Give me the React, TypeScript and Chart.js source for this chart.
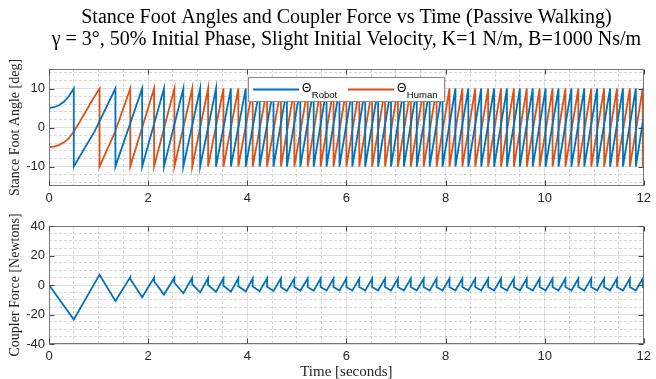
import React, { useEffect, useRef } from "react";
import { Chart, registerables } from "chart.js";

Chart.register(...registerables);

// ---------- text ----------
const TITLE_LINES = [
  "Stance Foot Angles and Coupler Force vs Time (Passive Walking)",
  "γ = 3°, 50% Initial Phase, Slight Initial Velocity, K=1 N/m, B=1000 Ns/m",
];
const ANGLE_LABEL = "Stance Foot Angle [deg]";
const FORCE_LABEL = "Coupler Force [Newtons]";
const TIME_LABEL = "Time [seconds]";
const LEGEND_SUBS = ["Robot", "Human"];

// ---------- ticks ----------
const X_MAJOR = [0, 2, 4, 6, 8, 10, 12];
const ANGLE_MAJOR = [-10, 0, 10];
const FORCE_MAJOR = [-40, -20, 0, 20, 40];

// ---------- data ----------
// initial (pre-impact) curves
const robotInitT = [0, 0.1, 0.2, 0.3, 0.4];
const robotInitV = [5, 5.2, 5.7, 6.6, 8.0];
const humanInitT = [0, 0.1, 0.2, 0.3, 0.4, 0.5, 0.6, 0.7, 0.8, 0.9];
const humanInitV = [-5, -4.9, -4.5, -3.8, -2.8, -1.0, 1.0, 3.2, 5.4, 7.6];

// impact (heel-strike) times: angle goes +10 -> -10
const robotImpacts = [
  0.5, 1.34, 1.88, 2.32, 2.71, 3.05, 3.37, 3.67, 3.97, 4.25, 4.53, 4.8, 5.07,
  5.34, 5.6, 5.86, 6.12, 6.38, 6.64, 6.9, 7.16, 7.42, 7.68, 7.94, 8.2, 8.46,
  8.72, 8.98, 9.24, 9.5, 9.76, 10.02, 10.28, 10.54, 10.8, 11.06, 11.32, 11.58,
  11.84,
];
const humanImpacts = [
  1.02, 1.64, 2.12, 2.53, 2.89, 3.21, 3.52, 3.82, 4.11, 4.4, 4.68, 4.95, 5.22,
  5.48, 5.74, 6.0, 6.26, 6.52, 6.78, 7.04, 7.3, 7.56, 7.82, 8.08, 8.34, 8.6,
  8.86, 9.12, 9.38, 9.64, 9.9, 10.16, 10.42, 10.68, 10.94, 11.2, 11.46, 11.72,
  11.98,
];
const IMPACT_HIGH = 10;
const IMPACT_LOW = -10;
// slight bends in the first rising strokes
const robotBendT = [0.92];
const robotBendV = [-1.0];
const humanBendT = [1.33];
const humanBendV = [-1.2];
const robotEndV = 3.0;
const humanEndV = -8.5;

// coupler force: minimum at each robot impact, peak at each human impact,
// value right after the peak drop
const forceStartV = 0;
const forceMin = [
  -23.4, -10.8, -8.3, -6.5, -5.6, -5.0, -4.7, -4.5, -4.3, -4.2, -4.1, -4.0,
  -3.9, -3.9, -3.8, -3.8, -3.8, -3.8, -3.7, -3.7, -3.7, -3.7, -3.7, -3.7, -3.7,
  -3.7, -3.7, -3.7, -3.7, -3.7, -3.7, -3.7, -3.7, -3.7, -3.7, -3.7, -3.7, -3.7,
  -3.7,
];
const forcePeak = [
  7.0, 5.4, 5.0, 4.9, 4.9, 4.7, 4.6, 4.6, 4.5, 4.5, 4.5, 4.4, 4.4, 4.4, 4.4,
  4.4, 4.4, 4.4, 4.4, 4.4, 4.4, 4.4, 4.4, 4.4, 4.4, 4.4, 4.4, 4.4, 4.4, 4.4,
  4.4, 4.4, 4.4, 4.4, 4.4, 4.4, 4.4, 4.4, 4.4,
];
const forceAfterPeak = [
  7.0, 4.0, 2.5, 1.5, 0.5, 0.0, -0.5, -0.8, -1.0, -1.2, -1.3, -1.4, -1.4, -1.4,
  -1.4, -1.4, -1.4, -1.4, -1.4, -1.4, -1.4, -1.4, -1.4, -1.4, -1.4, -1.4, -1.4,
  -1.4, -1.4, -1.4, -1.4, -1.4, -1.4, -1.4, -1.4, -1.4, -1.4, -1.4, -1.4,
];
const forceEndV = -1.6;

// ---------- build tables ----------
type P = { x: number; y: number };

function sawtooth(
  initT: number[],
  initV: number[],
  impacts: number[],
  bendT: number[],
  bendV: number[],
  endV: number
): P[] {
  const pts: P[] = initT.map((t, i) => ({ x: t, y: initV[i] }));
  let prev = -Infinity;
  impacts.forEach((t) => {
    bendT.forEach((bt, j) => {
      if (bt > prev && bt < t) pts.push({ x: bt, y: bendV[j] });
    });
    pts.push({ x: t, y: IMPACT_HIGH });
    pts.push({ x: t, y: IMPACT_LOW });
    prev = t;
  });
  pts.push({ x: 12, y: endV });
  return pts;
}

const robotPoints = sawtooth(robotInitT, robotInitV, robotImpacts, robotBendT, robotBendV, robotEndV);
const humanPoints = sawtooth(humanInitT, humanInitV, humanImpacts, humanBendT, humanBendV, humanEndV);

const forcePoints: P[] = [{ x: 0, y: forceStartV }];
robotImpacts.forEach((t, i) => {
  forcePoints.push({ x: t, y: forceMin[i] });
  forcePoints.push({ x: humanImpacts[i], y: forcePeak[i] });
  if (forceAfterPeak[i] !== forcePeak[i]) forcePoints.push({ x: humanImpacts[i], y: forceAfterPeak[i] });
});
forcePoints.push({ x: 12, y: forceEndV });

// ---------- styling helpers ----------
const BLUE = "#0072BD";
const ORANGE = "#D95319";
const TICK_COLOR = "#262626";
const GRID_COLOR = "rgba(38,38,38,0.15)";
const MINOR_COLOR = "rgba(38,38,38,0.18)";
const SERIF = "'Liberation Serif', 'DejaVu Serif', serif";
const SANS = "'Liberation Sans', Arial, sans-serif";

function gridValues(min: number, max: number, step: number) {
  const out: number[] = [];
  for (let v = min; v <= max + 1e-9; v += step) out.push(Math.round(v * 1000) / 1000);
  return out;
}

function makeAxis(opts: {
  min: number;
  max: number;
  grid: number[];
  major: number[];
  title?: string;
  titleSize?: number;
  isX: boolean;
  fitSize: number;
  titlePad?: any;
}) {
  const isMaj = (v: number) => opts.major.some((m) => Math.abs(m - v) < 1e-6);
  return {
    type: "linear",
    min: opts.min,
    max: opts.max,
    afterBuildTicks: (scale: any) => {
      scale.ticks = opts.grid.map((v) => ({ value: v }));
    },
    afterFit: (scale: any) => {
      if (opts.isX) scale.height = opts.fitSize;
      else scale.width = opts.fitSize;
    },
    ticks: {
      autoSkip: false,
      maxRotation: 0,
      minRotation: 0,
      padding: opts.isX ? 5 : 4,
      color: TICK_COLOR,
      font: { family: SANS, size: 13 },
      callback: (v: any) => (isMaj(Number(v)) ? String(v) : ""),
    },
    grid: {
      drawTicks: false,
      lineWidth: 1,
      color: (ctx: any) => (ctx.tick && isMaj(ctx.tick.value) ? GRID_COLOR : MINOR_COLOR),
    },
    border: {
      display: false,
      dash: (ctx: any) => (ctx.tick && !isMaj(ctx.tick.value) ? [3, 2] : []),
    },
    title: opts.title
      ? {
          display: true,
          text: opts.title,
          color: TICK_COLOR,
          font: { family: SERIF, size: opts.titleSize || 14 },
          padding: opts.titlePad || { top: 0, bottom: 0 },
        }
      : { display: false },
  };
}

// title centred over the axes (as MATLAB does)
const axesTitlePlugin = {
  id: "axesTitle",
  afterDraw(chart: any, _args: any, opts: any) {
    const { ctx, chartArea: a } = chart;
    ctx.save();
    ctx.fillStyle = "#000000";
    ctx.font = `20px ${SERIF}`;
    ctx.textAlign = "center";
    ctx.textBaseline = "middle";
    const cx = (a.left + a.right) / 2;
    opts.lines.forEach((line: string, i: number) => {
      ctx.fillText(line, cx, 18 + i * 22);
    });
    ctx.restore();
  },
};

const boxPlugin = {
  id: "matlabBox",
  afterDraw(chart: any, _args: any, opts: any) {
    const { ctx, chartArea: a, scales } = chart;
    ctx.save();
    ctx.strokeStyle = "#777777";
    ctx.lineWidth = 1;
    const L = Math.round(a.left) + 0.5;
    const R = Math.round(a.right) - 0.5;
    const T = Math.round(a.top) + 0.5;
    const B = Math.round(a.bottom) - 0.5;
    ctx.strokeRect(L, T, R - L, B - T);
    ctx.strokeStyle = "#444444";
    ctx.beginPath();
    for (const v of opts.xMajor) {
      const px = Math.round(scales.x.getPixelForValue(v)) + 0.5;
      ctx.moveTo(px, B);
      ctx.lineTo(px, B - 5);
      ctx.moveTo(px, T);
      ctx.lineTo(px, T + 5);
    }
    for (const v of opts.yMajor) {
      const py = Math.round(scales.y.getPixelForValue(v)) + 0.5;
      ctx.moveTo(L, py);
      ctx.lineTo(L + 5, py);
      ctx.moveTo(R, py);
      ctx.lineTo(R - 5, py);
    }
    ctx.stroke();
    ctx.restore();
  },
};

const legendPlugin = {
  id: "thetaLegend",
  afterDatasetsDraw(chart: any) {
    const { ctx, chartArea: a } = chart;
    const w = 196;
    const h = 24;
    const x0 = Math.round((a.left + a.right) / 2 - w / 2) + 0.5;
    const y0 = Math.round(a.top + 8) + 0.5;
    ctx.save();
    ctx.fillStyle = "#ffffff";
    ctx.fillRect(x0, y0, w, h);
    ctx.strokeStyle = "#8a8a8a";
    ctx.lineWidth = 1;
    ctx.strokeRect(x0, y0, w, h);
    chart.data.datasets.forEach((ds: any, i: number) => {
      const lx = x0 + 4.5 + i * 95;
      ctx.strokeStyle = ds.borderColor;
      ctx.lineWidth = 1.8;
      ctx.beginPath();
      ctx.moveTo(lx, y0 + 12);
      ctx.lineTo(lx + 46, y0 + 12);
      ctx.stroke();
      ctx.fillStyle = "#000000";
      ctx.textAlign = "left";
      ctx.textBaseline = "alphabetic";
      ctx.font = `12px ${SANS}`;
      ctx.fillText("Θ", lx + 49, y0 + 14);
      const tw = ctx.measureText("Θ").width;
      ctx.font = `9.5px ${SANS}`;
      ctx.fillText(LEGEND_SUBS[i], lx + 49 + tw + 0.5, y0 + 20.5);
    });
    ctx.restore();
  },
};

export default function App() {
  const topRef = useRef<HTMLCanvasElement>(null);
  const botRef = useRef<HTMLCanvasElement>(null);

  useEffect(() => {
    const xGrid = gridValues(0, 12, 0.5);
    const top = new Chart(topRef.current as HTMLCanvasElement, {
      type: "line",
      data: {
        datasets: [
          {
            label: "ΘRobot",
            data: robotPoints,
            borderColor: BLUE,
            backgroundColor: BLUE,
            borderWidth: 1.8,
            pointRadius: 0,
            tension: 0,
          },
          {
            label: "ΘHuman",
            data: humanPoints,
            borderColor: ORANGE,
            backgroundColor: ORANGE,
            borderWidth: 1.8,
            pointRadius: 0,
            tension: 0,
          },
        ],
      } as any,
      options: {
        responsive: false,
        animation: false,
        events: [],
        layout: { padding: { left: 0, right: 8, top: 69, bottom: 0 } },
        plugins: {
          legend: { display: false },
          tooltip: { enabled: false },
          title: { display: false },
          axesTitle: { lines: TITLE_LINES },
          matlabBox: { xMajor: X_MAJOR, yMajor: ANGLE_MAJOR },
        } as any,
        scales: {
          x: makeAxis({ min: 0, max: 12, grid: xGrid, major: X_MAJOR, isX: true, fitSize: 24 }) as any,
          y: makeAxis({
            min: -15,
            max: 15,
            grid: gridValues(-14, 14, 2),
            major: ANGLE_MAJOR,
            title: ANGLE_LABEL,
            isX: false,
            fitSize: 49,
            titlePad: { top: 7, bottom: 0 },
          }) as any,
        },
      },
      plugins: [boxPlugin, legendPlugin, axesTitlePlugin],
    });

    const bot = new Chart(botRef.current as HTMLCanvasElement, {
      type: "line",
      data: {
        datasets: [
          {
            label: "Coupler Force",
            data: forcePoints,
            borderColor: BLUE,
            backgroundColor: BLUE,
            borderWidth: 1.8,
            pointRadius: 0,
            tension: 0,
          },
        ],
      } as any,
      options: {
        responsive: false,
        animation: false,
        events: [],
        layout: { padding: { left: 0, right: 8, top: 16, bottom: 0 } },
        plugins: {
          legend: { display: false },
          tooltip: { enabled: false },
          matlabBox: { xMajor: X_MAJOR, yMajor: FORCE_MAJOR },
        } as any,
        scales: {
          x: makeAxis({
            min: 0,
            max: 12,
            grid: xGrid,
            major: X_MAJOR,
            title: TIME_LABEL,
            titleSize: 15,
            isX: true,
            fitSize: 35,
            titlePad: { top: 0, bottom: -2 },
          }) as any,
          y: makeAxis({
            min: -40,
            max: 40,
            grid: gridValues(-40, 40, 5),
            major: FORCE_MAJOR,
            title: FORCE_LABEL,
            isX: false,
            fitSize: 49,
            titlePad: { top: 7, bottom: 0 },
          }) as any,
        },
      },
      plugins: [boxPlugin],
    });

    return () => {
      top.destroy();
      bot.destroy();
    };
  }, []);

  return (
    <div
      style={{
        position: "absolute",
        left: 0,
        top: 0,
        width: 656,
        height: 379,
        background: "#ffffff",
        overflow: "hidden",
      }}
    >
      <canvas
        ref={topRef}
        width={656}
        height={210}
        style={{ position: "absolute", left: 0, top: 0, width: 656, height: 210 }}
      />
      <canvas
        ref={botRef}
        width={656}
        height={169}
        style={{ position: "absolute", left: 0, top: 210, width: 656, height: 169 }}
      />
    </div>
  );
}
